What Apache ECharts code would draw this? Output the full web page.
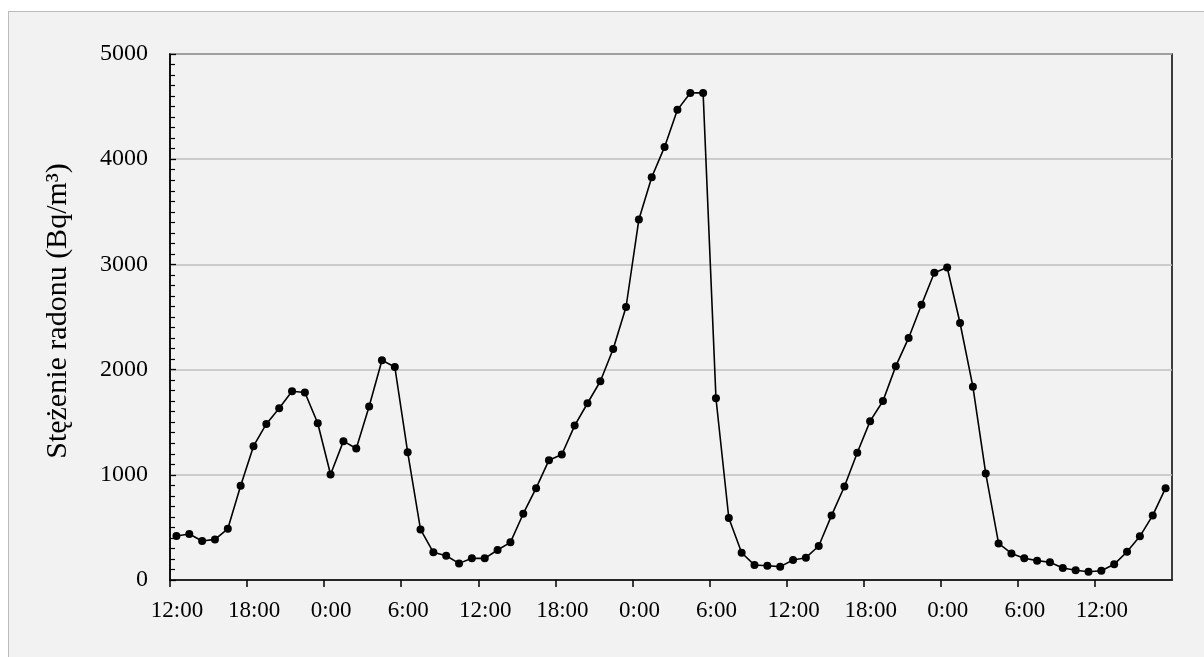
<!DOCTYPE html>
<html>
<head>
<meta charset="utf-8">
<script src="https://cdn.jsdelivr.net/npm/echarts@6/dist/echarts.min.js"></script>
<style>
html,body{margin:0;padding:0;background:#ffffff;width:1204px;height:657px;overflow:hidden;}
#bg{position:absolute;left:8px;top:11px;width:1220px;height:670px;background:#f2f2f2;border:1.5px solid #bdbdbd;box-sizing:border-box;}
#chart{position:absolute;left:0;top:0;width:1204px;height:657px;}
</style>
</head>
<body>
<div id="bg"></div>
<div id="chart"></div>
<script>
// hours since 12:00 of day 1 (measurements at half hour)
const hours = [];
for (let i = 0; i < 78; i++) hours.push(i + 0.5);
const radon = [
  418, 437, 370, 386, 487, 896, 1272, 1484, 1633, 1794,
  1782, 1490, 1003, 1320, 1250, 1649, 2089, 2025, 1215, 481,
  263, 231, 158, 206, 206, 285, 358, 630, 873, 1139,
  1193, 1468, 1680, 1889, 2196, 2595, 3427, 3829, 4117, 4469,
  4630, 4630, 1728, 589, 259, 142, 136, 127, 190, 212,
  323, 614, 889, 1209, 1510, 1701, 2033, 2301, 2617, 2921,
  2971, 2443, 1838, 1013, 348, 253, 206, 184, 168, 114,
  92, 79, 88, 149, 269, 415, 614, 873
];
const startHour = 12;
const yTitle = 'Stężenie radonu (Bq/m³)';

const chart = echarts.init(document.getElementById('chart'));
const font = '"Liberation Serif", "Times New Roman", serif';
chart.setOption({
  backgroundColor: 'transparent',
  animation: false,
  grid: {left: 170, right: 32, top: 54, bottom: 77, show: true, borderColor: '#000', borderWidth: 1.5, backgroundColor: 'transparent'},
  graphic: [{
    type: 'text', x: 58, y: 311, rotation: Math.PI / 2,
    style: {text: yTitle, font: '30px "Liberation Serif", "Times New Roman", serif', fill: '#000', align: 'center', verticalAlign: 'middle'}
  }],
  xAxis: {
    type: 'value', min: 0, max: 78, interval: 6,
    axisLine: {show: true, lineStyle: {color: '#000', width: 1.5}},
    axisTick: {show: true, inside: false, length: 7, lineStyle: {color: '#000', width: 1.5}},
    splitLine: {show: false},
    axisLabel: {
      showMaxLabel: false, margin: 19, color: '#000', fontFamily: font, fontSize: 23,
      padding: [0, 0, 0, 14],
      formatter: v => ((startHour + v) % 24) + ':00'
    }
  },
  yAxis: {
    type: 'value', min: 0, max: 5000, interval: 1000,
    axisLine: {show: true, lineStyle: {color: '#000', width: 1.5}},
    axisTick: {show: true, inside: true, length: 6, lineStyle: {color: '#000', width: 1.3}},
    minorTick: {show: true, splitNumber: 10, length: 5, lineStyle: {color: '#000', width: 1.2}},
    splitLine: {show: true, lineStyle: {color: '#bfbfbf', width: 1.5}},
    axisLabel: {margin: 22, color: '#000', fontFamily: font, fontSize: 24, formatter: v => String(v)}
  },
  series: [{
    type: 'line',
    data: hours.map((h, i) => [h, radon[i]]),
    symbol: 'circle', symbolSize: 8,
    lineStyle: {color: '#000', width: 1.6},
    itemStyle: {color: '#000'}
  }]
});
</script>
</body>
</html>
